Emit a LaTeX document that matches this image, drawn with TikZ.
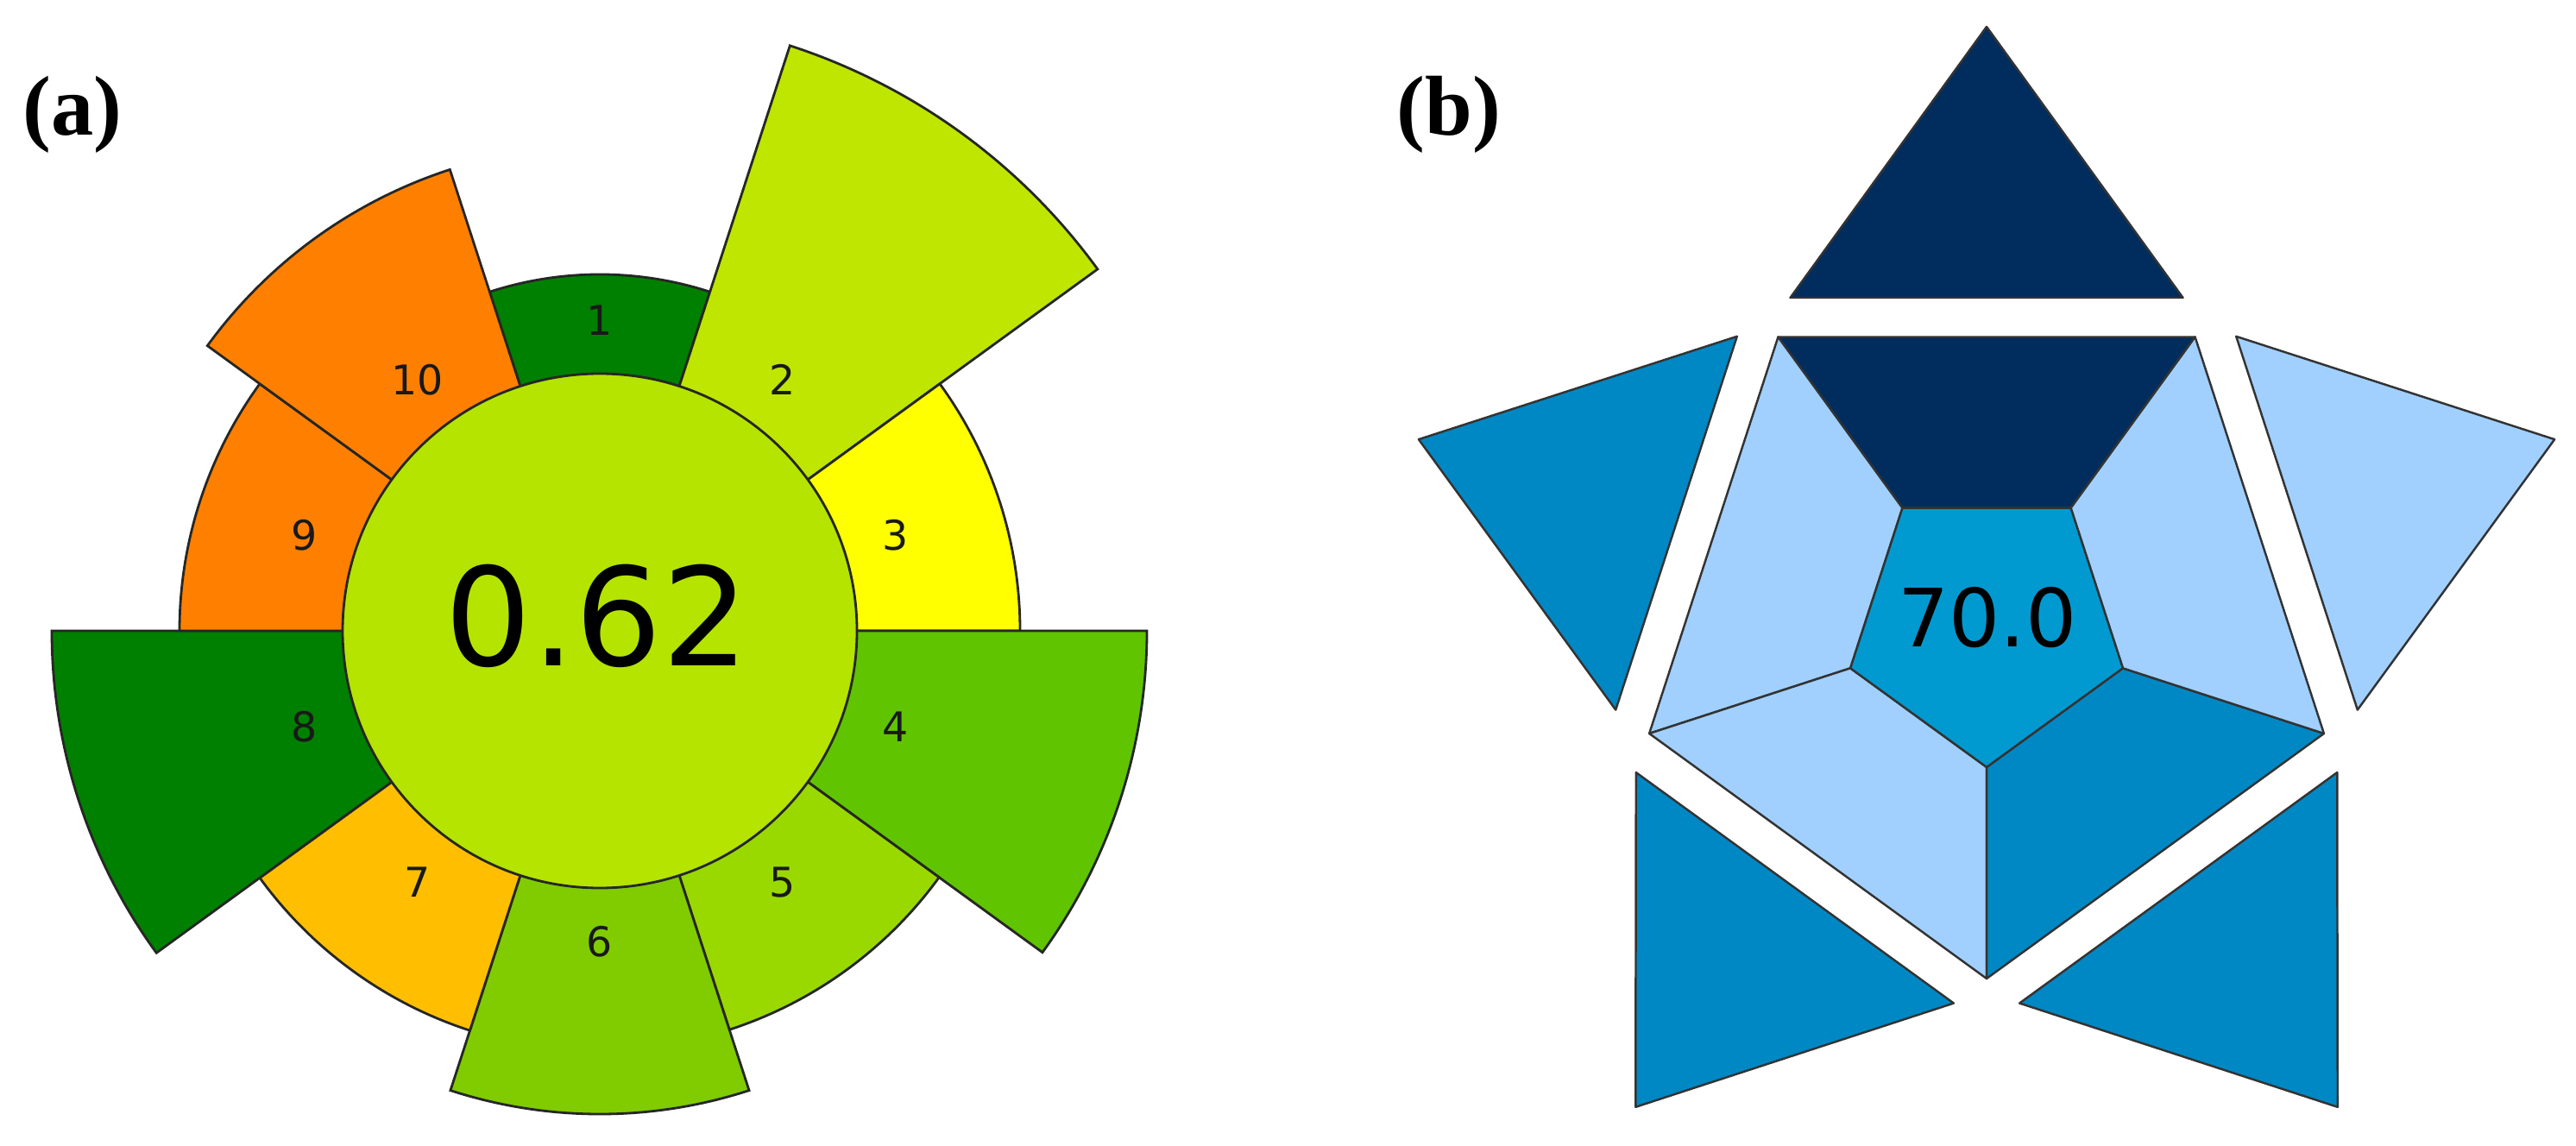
\documentclass[tikz,border=0pt]{standalone}
\usepackage{fontspec}
\setmainfont{Liberation Serif}
\newfontfamily\numfont{DejaVu Sans}
\usepackage{tikz}
\usetikzlibrary{calc}

\definecolor{segOne}{HTML}{008000}
\definecolor{segTwo}{HTML}{BFE600}
\definecolor{segThree}{HTML}{FFFF00}
\definecolor{segFour}{HTML}{60C400}
\definecolor{segFive}{HTML}{99D900}
\definecolor{segSix}{HTML}{80CC00}
\definecolor{segSeven}{HTML}{FFBF00}
\definecolor{segEight}{HTML}{008000}
\definecolor{segNine}{HTML}{FF8000}
\definecolor{segTen}{HTML}{FF8000}
\definecolor{scoreCol}{HTML}{B5E400}
\definecolor{navyBlue}{HTML}{002D5E}
\definecolor{midBlue}{HTML}{0088C4}
\definecolor{lightBlue}{HTML}{A1D0FF}
\definecolor{coreBlue}{HTML}{009AD0}

\begin{document}
\begin{tikzpicture}[
  seg/.style={draw=black!85, line width=0.8pt},
  num/.style={font=\numfont\fontsize{13.5}{16}\selectfont, text=black!90, inner sep=0pt},
  tile/.style={draw=black!80, line width=0.7pt, line join=round},
  panel/.style={font=\bfseries\fontsize{28}{32}\selectfont, inner sep=0pt}]
\useasboundingbox (0,0) rectangle (29.85,13.27);

% (a) pictogram
\coordinate (ca) at (6.95,5.96);
\filldraw[seg, fill=segOne] (ca) -- ++(108:4.13) arc[start angle=108, end angle=72, radius=4.13] -- cycle;
\filldraw[seg, fill=segTwo] (ca) -- ++(72:7.13) arc[start angle=72, end angle=36, radius=7.13] -- cycle;
\filldraw[seg, fill=segThree] (ca) -- ++(36:4.87) arc[start angle=36, end angle=0, radius=4.87] -- cycle;
\filldraw[seg, fill=segFour] (ca) -- ++(0:6.34) arc[start angle=0, end angle=-36, radius=6.34] -- cycle;
\filldraw[seg, fill=segFive] (ca) -- ++(-36:4.86) arc[start angle=-36, end angle=-72, radius=4.86] -- cycle;
\filldraw[seg, fill=segSix] (ca) -- ++(-72:5.60) arc[start angle=-72, end angle=-108, radius=5.60] -- cycle;
\filldraw[seg, fill=segSeven] (ca) -- ++(-108:4.87) arc[start angle=-108, end angle=-144, radius=4.87] -- cycle;
\filldraw[seg, fill=segEight] (ca) -- ++(-144:6.35) arc[start angle=-144, end angle=-180, radius=6.35] -- cycle;
\filldraw[seg, fill=segNine] (ca) -- ++(180:4.87) arc[start angle=180, end angle=144, radius=4.87] -- cycle;
\filldraw[seg, fill=segTen] (ca) -- ++(144:5.62) arc[start angle=144, end angle=108, radius=5.62] -- cycle;
\filldraw[seg, fill=scoreCol] (ca) circle[radius=2.98];

\node[num] (n1) at ($(ca)+(90:3.6)$) {1};
\node[num] (n2) at ($(ca)+(54:3.6)$) {2};
\node[num] (n3) at ($(ca)+(18:3.6)$) {3};
\node[num] (n4) at ($(ca)+(-18:3.6)$) {4};
\node[num] (n5) at ($(ca)+(-54:3.6)$) {5};
\node[num] (n6) at ($(ca)+(-90:3.6)$) {6};
\node[num] (n7) at ($(ca)+(-126:3.6)$) {7};
\node[num] (n8) at ($(ca)+(-162:3.6)$) {8};
\node[num] (n9) at ($(ca)+(162:3.6)$) {9};
\node[num] (n10) at ($(ca)+(126:3.6)$) {10};
\node[inner sep=0pt, font=\numfont\fontsize{45}{54}\selectfont] (scoreA) at (6.92,6.13) {0.62};
\node[panel] (lblA) at (0.84,11.94) {(a)};

% (b) pictogram
\coordinate (cb) at (23.02,6.04);
\begin{scope}[shift={(cb)}]
\filldraw[tile, fill=navyBlue] (54:4.11) -- (126:4.11) -- (126:1.66) -- (54:1.66) -- cycle;
\filldraw[tile, fill=lightBlue] (126:4.11) -- (198:4.11) -- (198:1.66) -- (126:1.66) -- cycle;
\filldraw[tile, fill=lightBlue] (198:4.11) -- (270:4.11) -- (270:1.66) -- (198:1.66) -- cycle;
\filldraw[tile, fill=midBlue] (270:4.11) -- (342:4.11) -- (342:1.66) -- (270:1.66) -- cycle;
\filldraw[tile, fill=lightBlue] (342:4.11) -- (54:4.11) -- (54:1.66) -- (342:1.66) -- cycle;
\filldraw[tile, fill=coreBlue] (54:1.66) -- (126:1.66) -- (198:1.66) -- (270:1.66) -- (342:1.66) -- cycle;
\filldraw[tile, fill=navyBlue] (-2.275,3.78) -- (2.275,3.78) -- (0,6.92) -- cycle;
\filldraw[tile, fill=midBlue, rotate=72] (-2.275,3.78) -- (2.275,3.78) -- (0,6.92) -- cycle;
\filldraw[tile, fill=midBlue, rotate=144] (-2.275,3.78) -- (2.275,3.78) -- (0,6.92) -- cycle;
\filldraw[tile, fill=midBlue, rotate=216] (-2.275,3.78) -- (2.275,3.78) -- (0,6.92) -- cycle;
\filldraw[tile, fill=lightBlue, rotate=288] (-2.275,3.78) -- (2.275,3.78) -- (0,6.92) -- cycle;
\end{scope}
\node[inner sep=0pt, font=\numfont\fontsize{26.5}{32}\selectfont] (scoreB) at (23.03,6.11) {70.0};
\node[panel] (lblB) at (16.79,11.94) {(b)};
\end{tikzpicture}
\end{document}
